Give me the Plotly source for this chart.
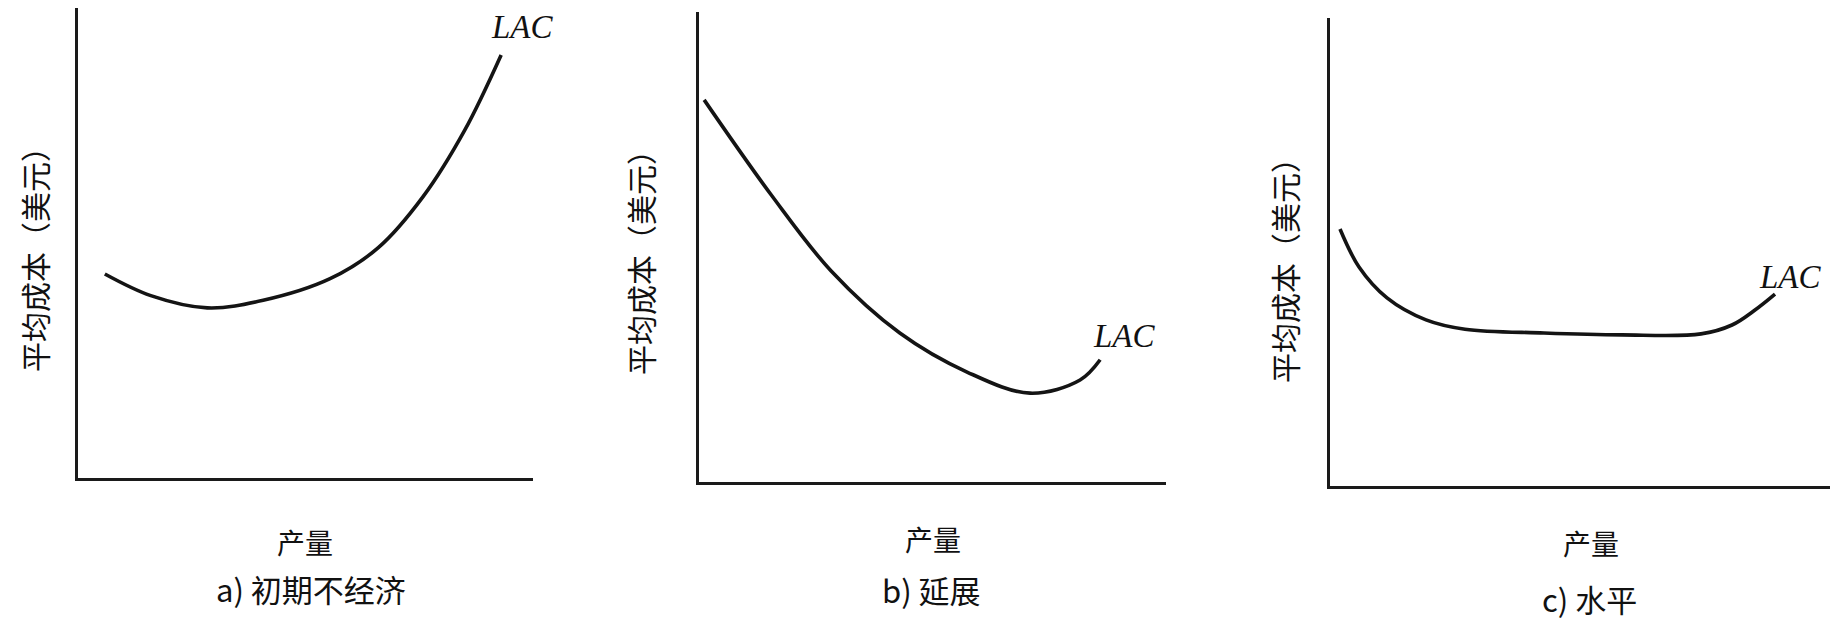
import plotly.graph_objects as go

# ---- data (output vs. long-run average cost, arbitrary units 0-10) ----
a_output = [0.59, 1.60, 2.84, 4.07, 5.54, 6.60, 7.58, 8.50, 9.30]
a_cost = [4.34, 3.88, 3.62, 3.78, 4.24, 4.90, 5.98, 7.40, 9.00]

b_output = [0.11, 1.56, 2.83, 4.30, 5.74, 7.09, 8.16, 8.59]
b_cost = [8.13, 6.09, 4.49, 3.17, 2.34, 1.89, 2.17, 2.60]

c_output = [0.20, 0.58, 1.14, 1.92, 2.70, 4.28, 5.84, 7.42, 8.04, 8.50, 8.90]
c_cost = [5.49, 4.68, 4.02, 3.55, 3.35, 3.27, 3.23, 3.25, 3.44, 3.76, 4.10]

curve_label = "LAC"
y_title = "平均成本（美元）"
x_title = "产量"
captions = ["a) 初期不经济", "b) 延展", "c) 水平"]

W, H = 1845, 621

def px(x):
    return x / W

def py(y):
    return 1 - y / H

# panel frames (pixel boxes: left, right, top, bottom)
frames = [(78, 533, 8, 478), (699, 1166, 12, 482), (1330, 1830, 18, 486)]

fig = go.Figure()

series = [(a_output, a_cost), (b_output, b_cost), (c_output, c_cost)]
for i, (xs, ys) in enumerate(series):
    sfx = "" if i == 0 else str(i + 1)
    fig.add_trace(go.Scatter(
        x=xs, y=ys, mode="lines",
        line=dict(color="#141414", width=3.6, shape="spline", smoothing=1.0),
        xaxis="x" + sfx, yaxis="y" + sfx, showlegend=False, hoverinfo="skip",
    ))

layout = dict(
    width=W, height=H,
    margin=dict(l=0, r=0, t=0, b=0),
    paper_bgcolor="white", plot_bgcolor="white",
    showlegend=False,
)
for i, (l, r, t, b) in enumerate(frames):
    sfx = "" if i == 0 else str(i + 1)
    ax_common = dict(showgrid=False, zeroline=False, showticklabels=False,
                     ticks="", showline=True, linecolor="#1a1a1a", linewidth=2.6,
                     range=[0, 10], fixedrange=True)
    layout["xaxis" + sfx] = dict(ax_common, domain=[px(l), px(r)],
                                 anchor="y" + sfx)
    layout["yaxis" + sfx] = dict(ax_common, domain=[py(b), py(t)],
                                 anchor="x" + sfx)
fig.update_layout(**layout)

cjk = "Noto Sans CJK SC"

# LAC labels (data coordinates)
lac_pos = [(9.78, 9.60), (9.12, 3.11), (9.20, 4.47)]
for i, (lx, ly) in enumerate(lac_pos):
    sfx = "" if i == 0 else str(i + 1)
    fig.add_annotation(x=lx, y=ly, xref="x" + sfx, yref="y" + sfx,
                       text="<i>" + curve_label + "</i>", showarrow=False,
                       font=dict(family="Liberation Serif", size=33, color="#111"),
                       xanchor="center", yanchor="middle")

# y titles
ytitle_pos = [(34, 252), (640, 255), (1284, 263)]
for (xx, yy) in ytitle_pos:
    fig.add_annotation(x=px(xx), y=py(yy), xref="paper", yref="paper",
                       text=y_title, textangle=-90, showarrow=False,
                       font=dict(family=cjk, size=30, color="#111"),
                       xanchor="center", yanchor="middle")

# x titles
xtitle_pos = [(305, 542), (933, 539), (1591, 543)]
for (xx, yy) in xtitle_pos:
    fig.add_annotation(x=px(xx), y=py(yy), xref="paper", yref="paper",
                       text=x_title, showarrow=False,
                       font=dict(family=cjk, size=28, color="#111"),
                       xanchor="center", yanchor="middle")

# captions
cap_pos = [(311, 588), (931, 589), (1589, 598)]
for cap, (xx, yy) in zip(captions, cap_pos):
    fig.add_annotation(x=px(xx), y=py(yy), xref="paper", yref="paper",
                       text=cap, showarrow=False,
                       font=dict(family=cjk, size=31, color="#111"),
                       xanchor="center", yanchor="middle")

fig.write_html("out.html")
